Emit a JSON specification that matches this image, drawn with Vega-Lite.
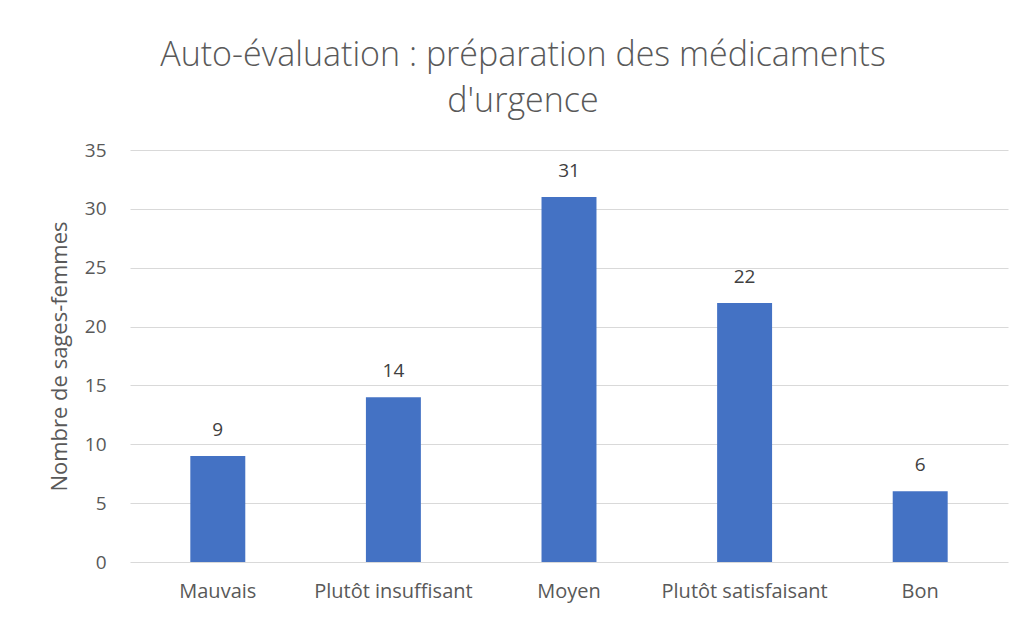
{
  "$schema": "https://vega.github.io/schema/vega-lite/v6.json",
  "width": 878,
  "height": 412,
  "autosize": {"type": "none"},
  "padding": {"left": 130, "top": 150, "right": 18, "bottom": 57},
  "background": "white",
  "title": {
    "text": ["Auto-évaluation : préparation des médicaments", "d'urgence"],
    "font": "Open Sans",
    "fontSize": 34,
    "fontWeight": 300,
    "color": "#595959",
    "anchor": "middle",
    "dx": -46,
    "offset": 22,
    "lineHeight": 46
  },
  "data": {
    "values": [
      {"categorie": "Mauvais", "n": 9},
      {"categorie": "Plutôt insuffisant", "n": 14},
      {"categorie": "Moyen", "n": 31},
      {"categorie": "Plutôt satisfaisant", "n": 22},
      {"categorie": "Bon", "n": 6}
    ]
  },
  "encoding": {
    "x": {
      "field": "categorie",
      "type": "nominal",
      "sort": null,
      "scale": {"paddingInner": 0.687, "paddingOuter": 0.3435},
      "axis": {
        "title": null,
        "labelAngle": 0,
        "labelFont": "Open Sans",
        "labelFontSize": 20,
        "labelColor": "#595959",
        "labelPadding": 19,
        "ticks": false,
        "domain": false
      }
    },
    "y": {
      "field": "n",
      "type": "quantitative",
      "scale": {"domain": [0, 35]},
      "axis": {
        "values": [0, 5, 10, 15, 20, 25, 30, 35],
        "title": "Nombre de sages-femmes",
        "titleFont": "Open Sans",
        "titleFontSize": 22,
        "titleFontWeight": "normal",
        "titleColor": "#595959",
        "titlePadding": 13,
        "labelFont": "Open Sans",
        "labelFontSize": 19,
        "labelColor": "#595959",
        "labelPadding": 24,
        "ticks": false,
        "domain": false,
        "gridColor": "#d9d9d9",
        "gridWidth": 1
      }
    }
  },
  "layer": [
    {"mark": {"type": "bar", "color": "#4472C4"}},
    {
      "mark": {"type": "text", "dy": -26, "font": "Open Sans", "fontSize": 19, "color": "#404040"},
      "encoding": {"text": {"field": "n", "type": "quantitative"}}
    }
  ],
  "config": {"view": {"stroke": null}}
}
